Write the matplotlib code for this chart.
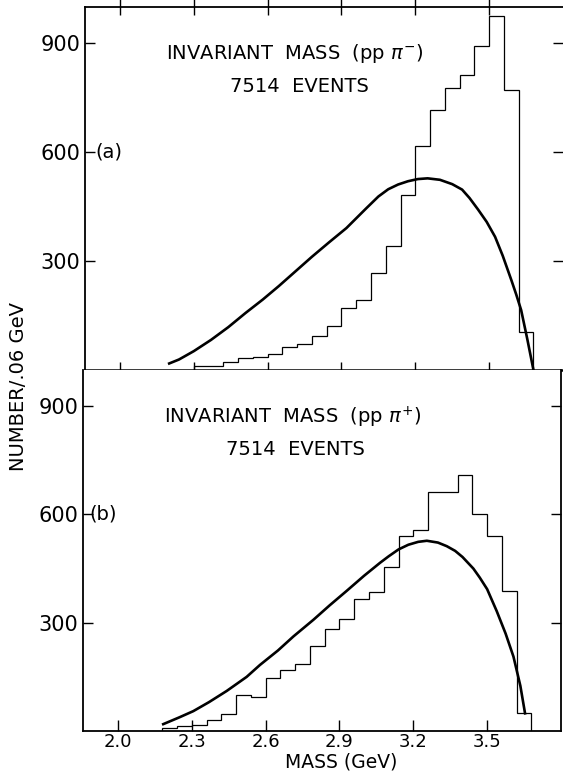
import matplotlib
matplotlib.use("Agg")
from matplotlib import pyplot as plt
import numpy as np

# bins are 0.06 GeV wide
bin_width = 0.06
lo_minus = 2.30
counts_minus = [10, 12, 21, 33, 37, 44, 64, 73, 94, 121, 171, 193, 268, 341,
                482, 617, 716, 778, 812, 892, 974, 771, 105]
lo_plus = 2.18
counts_plus = [8, 14, 16, 30, 48, 99, 95, 146, 169, 186, 235, 283, 309, 366,
               384, 453, 539, 558, 661, 661, 709, 602, 540, 387, 49]

# phase space curves
curve_a_m = [2.20, 2.24, 2.30, 2.37, 2.44, 2.51, 2.58, 2.645, 2.71, 2.78, 2.85,
             2.92, 2.96, 3.00, 3.05, 3.09, 3.13, 3.17, 3.21, 3.25, 3.30, 3.35,
             3.39, 3.42, 3.455, 3.49, 3.524, 3.555, 3.59, 3.61, 3.63, 3.655,
             3.68]
curve_a_n = [18, 29, 52, 83, 118, 157, 194, 231, 270, 312, 352, 391, 418, 445,
             478, 498, 511, 520, 526, 528, 524, 512, 497, 474, 442, 408, 367,
             315, 248, 208, 165, 85, 0]
curve_b_m = [2.184, 2.25, 2.306, 2.37, 2.442, 2.523, 2.577, 2.65, 2.713, 2.794,
             2.86, 2.929, 3.0, 3.065, 3.10, 3.14, 3.18, 3.22, 3.255, 3.30,
             3.336, 3.37, 3.40, 3.444, 3.47, 3.50, 3.539, 3.575, 3.607, 3.635,
             3.654]
curve_b_n = [19, 38, 55, 80, 111, 150, 183, 223, 262, 308, 348, 388, 430, 466,
             484, 503, 516, 524, 527, 522, 512, 499, 482, 450, 425, 393, 332,
             270, 206, 125, 49]

xticks = [2.0, 2.3, 2.6, 2.9, 3.2, 3.5]
yticks = [300, 600, 900]

plt.rcParams['font.family'] = ['DejaVu Sans']

fig = plt.figure(figsize=(5.63, 7.78), dpi=100)
ax_a = fig.add_axes([0.151, 0.5244, 0.849, 0.4666])
ax_b = fig.add_axes([0.1474, 0.0604, 0.849, 0.4640])


def edges(lo, n):
    return np.round(lo + bin_width * np.arange(n + 1), 3)


def style(ax):
    ax.set_xlim(1.858, 3.80)
    ax.set_ylim(0, 1000)
    ax.set_xticks(xticks)
    ax.set_yticks(yticks)
    for s in ax.spines.values():
        s.set_linewidth(1.3)
    ax.tick_params(axis='y', direction='in', length=7, width=1.0, labelsize=15,
                   pad=3.5, left=True, right=True)


ax_a.stairs(counts_minus, edges(lo_minus, len(counts_minus)), baseline=0,
            color='black', lw=0.9)
ax_a.plot(curve_a_m, curve_a_n, color='black', lw=1.9)
style(ax_a)
ax_a.spines['right'].set_visible(False)
ax_a.spines['bottom'].set_linewidth(1.8)
ax_a.tick_params(axis='x', which='both', top=True, bottom=True, direction='in',
                 length=7, width=1.0, labelbottom=False)
ax_a.tick_params(axis='x', which='both', bottom=True, direction='inout',
                 length=12)
ax_a.text(2.71, 872, "INVARIANT  MASS  (pp $\\pi^{-}$)", ha='center',
          va='center', fontsize=14)
ax_a.text(2.73, 782, "7514  EVENTS", ha='center', va='center', fontsize=14)
ax_a.text(0.021, 600, "(a)", transform=ax_a.get_yaxis_transform(),
          ha='left', va='center', fontsize=14)

ax_b.stairs(counts_plus, edges(lo_plus, len(counts_plus)), baseline=0,
            color='black', lw=0.9)
ax_b.plot(curve_b_m, curve_b_n, color='black', lw=1.9)
style(ax_b)
ax_b.spines['top'].set_visible(False)
ax_b.tick_params(axis='x', top=False, bottom=True, direction='in', length=8,
                 width=1.0, labelsize=13, pad=1.5)
ax_b.set_xticklabels(["2.0", "2.3", "2.6", "2.9", "3.2", "3.5"])
ax_b.text(2.71, 868, "INVARIANT  MASS  (pp $\\pi^{+}$)", ha='center',
          va='center', fontsize=14)
ax_b.text(2.72, 781, "7514  EVENTS", ha='center', va='center', fontsize=14)
ax_b.text(0.013, 600, "(b)", transform=ax_b.get_yaxis_transform(),
          ha='left', va='center', fontsize=14)

fig.text(0.032, 0.5026, "NUMBER/.06 GeV", rotation=90, ha='center',
         va='center', fontsize=14)
fig.text(0.606, 0.021, "MASS (GeV)", ha='center', va='center', fontsize=13.5)

fig.savefig("out.png", dpi=100)
plt.close(fig)
